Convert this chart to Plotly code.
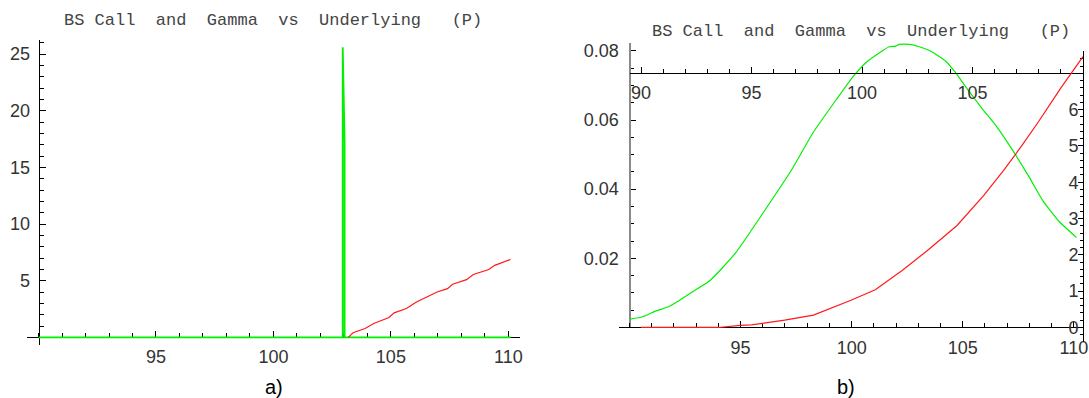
import plotly.graph_objects as go

W, H = 1089, 398

# ---------------- data ----------------
title_text = "BS Call  and  Gamma  vs  Underlying   (P)"

# panel a) : gamma (green) and call (red) vs underlying
a_gamma_x = [90.0, 102.95, 102.95, 103.03, 103.03, 110.1]
a_gamma_y = [0.0, 0.0, 25.6, 17.4, 0.0, 0.0]
a_call_x = [103.19, 103.39, 103.90, 104.27, 104.92, 105.14, 105.66, 106.09, 106.53,
            106.97, 107.41, 107.63, 108.22, 108.51, 109.17, 109.42, 110.09]
a_call_y = [0.0, 0.41, 0.79, 1.23, 1.76, 2.17, 2.55, 3.13, 3.57,
            4.01, 4.31, 4.69, 5.10, 5.55, 5.99, 6.36, 6.89]

# panel b) : gamma (green, left axis / bottom axis)
b_gamma_x = [90.03, 90.59, 91.20, 91.73, 92.26, 92.95, 93.63, 94.77, 95.99, 97.28,
             98.27, 99.33, 100.09, 100.77, 101.69, 101.99, 102.14, 102.60, 103.05,
             103.59, 104.27, 104.65, 105.26, 105.86, 106.55, 107.16, 107.99, 108.60,
             109.36, 110.12]
b_gamma_y = [0.0024, 0.0031, 0.0048, 0.0059, 0.0079, 0.0108, 0.0136, 0.0215, 0.0329,
             0.0454, 0.0564, 0.0661, 0.0728, 0.0773, 0.0812, 0.0814, 0.0819, 0.0819,
             0.0812, 0.0798, 0.0768, 0.0739, 0.0685, 0.0634, 0.0579, 0.0521, 0.0435,
             0.0367, 0.0305, 0.0260]
# panel b) : call (red, right axis / top axis)
b_call_x = [90.0, 93.5, 94.5, 95.0, 96.5, 97.8, 99.5, 100.6, 101.8, 103.0, 104.3,
            105.5, 106.4, 107.2, 108.0, 109.0, 110.0]
b_call_y = [0.0, 0.0, 0.06, 0.07, 0.2, 0.34, 0.75, 1.04, 1.56, 2.14, 2.81,
            3.63, 4.32, 4.98, 5.68, 6.60, 7.46]

a_xticks = [95, 100, 105, 110]
a_yticks = [5, 10, 15, 20, 25]
b_xticks = [95, 100, 105, 110]
b_yticks = [0.02, 0.04, 0.06, 0.08]
b_top_ticks = [90, 95, 100, 105]
b_right_ticks = [0, 1, 2, 3, 4, 5, 6]

# ---------------- styling helpers ----------------
GREEN = "#00f000"
RED = "#ff1a1a"
TICKFONT = dict(family="Liberation Sans", size=18, color="#333333")


def px(x):
    return x / W


def py(y):
    return 1 - y / H


fig = go.Figure()
fig.add_trace(go.Scatter(x=a_gamma_x, y=a_gamma_y, mode="lines",
                         line=dict(color=GREEN, width=1.8), xaxis="x", yaxis="y"))
fig.add_trace(go.Scatter(x=a_call_x, y=a_call_y, mode="lines",
                         line=dict(color=RED, width=1.2), xaxis="x", yaxis="y"))
fig.add_trace(go.Scatter(x=b_gamma_x, y=b_gamma_y, mode="lines",
                         line=dict(color=GREEN, width=1.2, shape="spline", smoothing=0.5),
                         xaxis="x2", yaxis="y2"))
fig.add_trace(go.Scatter(x=b_call_x, y=b_call_y, mode="lines",
                         line=dict(color=RED, width=1.2), xaxis="x3", yaxis="y3"))

common = dict(showgrid=False, zeroline=False, showline=True, linecolor="black",
              linewidth=1, ticks="inside", tickcolor="black", tickfont=TICKFONT,
              layer="below traces", fixedrange=True)

fig.update_layout(
    width=W, height=H, margin=dict(l=0, r=0, t=0, b=0),
    paper_bgcolor="white", plot_bgcolor="rgba(0,0,0,0)", showlegend=False,
    xaxis=dict(**common, domain=[px(26.7), px(522.7)], range=[89.49, 110.51],
               anchor="free", position=py(337.3), tickvals=a_xticks, ticklen=6,
               ticklabelstandoff=3,
               minor=dict(dtick=1, tick0=90, ticks="inside", ticklen=4, tickcolor="black")),
    yaxis=dict(**common, domain=[py(345), py(39.3)], range=[-0.68, 26.23],
               anchor="free", position=px(38.7), tickvals=a_yticks, ticklen=6,
               ticklabelstandoff=5,
               minor=dict(dtick=1, tick0=0, ticks="inside", ticklen=4, tickcolor="black")),
    xaxis2=dict(**common, domain=[px(621.7), px(1088)], range=[89.525, 110.41],
                anchor="y2", tickvals=b_xticks, ticklen=6, ticklabelstandoff=4,
                ticklabeloverflow="allow",
                minor=dict(dtick=1, tick0=90, ticks="inside", ticklen=4, tickcolor="black")),
    yaxis2=dict(**{**common, "linecolor": "#8a8a8a", "linewidth": 2},
                domain=[py(327.3), py(41.7)], range=[0, 0.0824],
                anchor="free", position=px(633.3), tickvals=b_yticks, tickformat=".2f",
                ticklen=5, ticklabelstandoff=7,
                minor=dict(dtick=0.005, tick0=0, ticks="inside", ticklen=3, tickcolor="black")),
    xaxis3=dict(**common, domain=[px(633.3), px(1088)], range=[89.518, 110.0],
                anchor="free", position=py(71.7), side="bottom", tickvals=b_top_ticks,
                ticklen=6, ticklabelstandoff=4,
                minor=dict(dtick=1, tick0=90, ticks="inside", ticklen=4, tickcolor="black")),
    yaxis3=dict(**common, domain=[py(342), py(50)], range=[-0.4038, 7.618],
                anchor="x3", side="right", ticklabelposition="inside",
                tickvals=b_right_ticks, ticklen=5,
                minor=dict(dtick=0.2, tick0=0, ticks="inside", ticklen=3, tickcolor="black")),
)

title_font = dict(family="Liberation Mono", size=17, color="#444444")
label_font = dict(family="Liberation Sans", size=20, color="black")
t = title_text.replace("  ", " \u00a0")
fig.add_annotation(x=px(274.3), y=py(20), xref="paper", yref="paper", text=t,
                   showarrow=False, font=title_font, xanchor="center", yanchor="middle")
fig.add_annotation(x=px(864.8), y=py(30.7), xref="paper", yref="paper", text=t,
                   showarrow=False, font=title_font, xanchor="center", yanchor="middle")
fig.add_annotation(x=px(275), y=py(386.7), xref="paper", yref="paper", text="a)",
                   showarrow=False, font=label_font, xanchor="center", yanchor="middle")
fig.add_annotation(x=px(850), y=py(386.7), xref="paper", yref="paper", text="b)",
                   showarrow=False, font=label_font, xanchor="center", yanchor="middle")

fig.write_html("out.html", config={"displayModeBar": False, "staticPlot": True},
               post_script="document.body.style.margin='0';document.body.style.overflow='hidden';")
